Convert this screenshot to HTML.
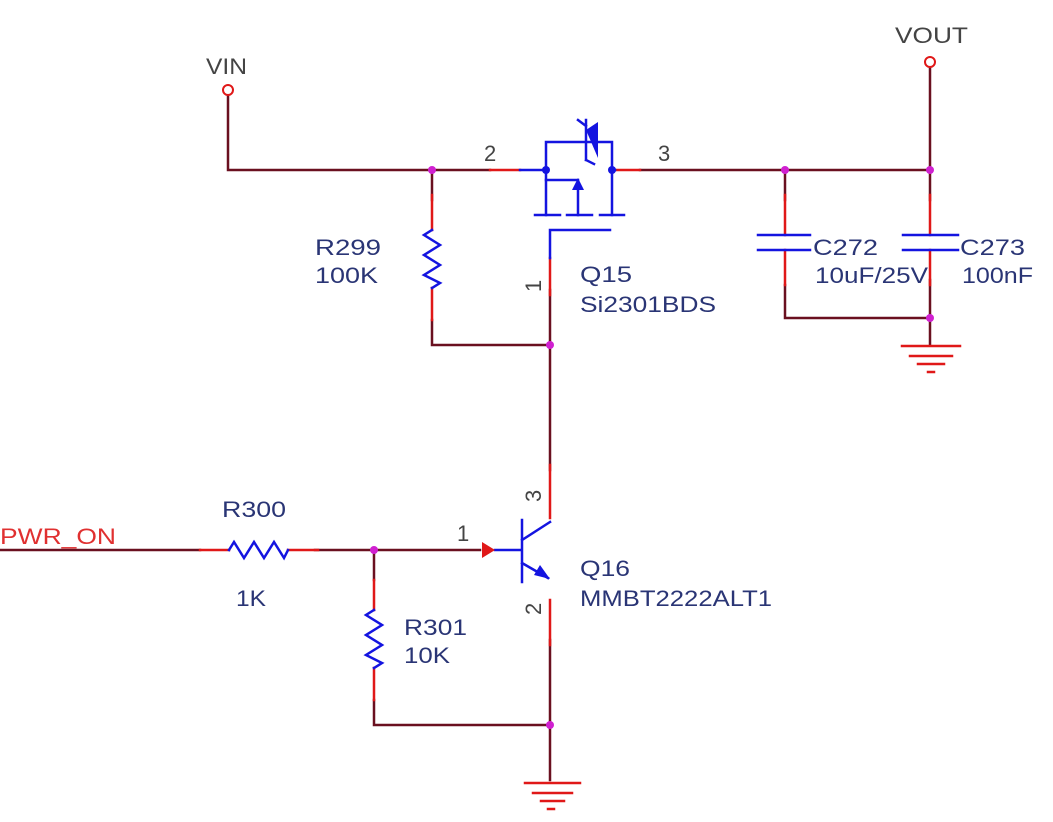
<!DOCTYPE html>
<html><head><meta charset="utf-8"><style>
html,body{margin:0;padding:0;background:#fff;}
svg{display:block;}
text{font-family:"Liberation Sans",sans-serif;}
</style></head><body>
<svg width="1053" height="822" viewBox="0 0 1053 822" xmlns="http://www.w3.org/2000/svg">
<g fill="none" stroke-width="2.5" stroke-linecap="square">
<g stroke="#6a1020">
<path d="M228 96 V170 H490"/>
<path d="M640 170 H930 V68"/>
<path d="M432 170 V200 M432 320 V345 H550"/>
<path d="M550 345 V290"/>
<path d="M785 170 V200 M930 170 V200"/>
<path d="M785 285 V318 H930 V345 M930 280 V318"/>
<path d="M0 550 H200 M315 550 H480"/>
<path d="M374 550 V580 M374 700 V725 H550 V780"/>
<path d="M550 345 V470 M550 640 V725"/>
</g>
<g stroke="#e01818">
<path d="M490 170 H520 M615 170 H640"/>
<path d="M432 195 V230 M432 288 V320"/>
<path d="M785 195 V235 M785 250 V285 M930 195 V235 M930 250 V285"/>
<path d="M550 258 V295"/>
<path d="M200 550 H229 M288 550 H318"/>
<path d="M374 580 V610 M374 668 V700"/>
<path d="M550 465 V518 M550 600 V645"/>
<path d="M902 346 H960 M910 356 H952 M918 364 H944 M928 372 H934"/>
<path d="M525 783 H580 M533 793 H572 M541 801 H564 M548 809 H554"/>
</g>
<circle cx="228" cy="90" r="5" stroke="#e01818" stroke-width="2"/>
<circle cx="930" cy="62" r="5" stroke="#e01818" stroke-width="2"/>
<g stroke="#1414e0">
<path d="M520 170 H546 M612 170 H615"/>
<path d="M546 215 V142 H612 V215"/>
<path d="M546 180 H578 V215"/>
<path d="M535 215 H560 M567 215 H592 M600 215 H624"/>
<path d="M550 258 V230 H610"/>
<path d="M586 120 V160 M578 120 L586 126 M586 160 L594 164"/>
<path d="M229 550 L234 542 L244 558 L254 542 L264 558 L274 542 L284 558 L288 550"/>
<path d="M374 610 L366 615 L382 625 L366 635 L382 645 L366 655 L382 663 L374 668"/>
<path d="M432 230 L424 235 L440 245 L424 255 L440 265 L424 275 L440 283 L432 288"/>
<path d="M758 235 H810 M758 250 H810 M903 235 H958 M903 250 H958"/>
<path d="M495 550 H522 M522 520 V582 M522 540 L550 522 M522 563 L548 578"/>
</g>
</g>
<polygon points="588,128 600,120 600,156" fill="#1414e0" transform="translate(-2,2)"/>
<polygon points="578,178 572,190 584,190" fill="#1414e0"/>
<polygon points="550,579 534,575 540,565" fill="#1414e0"/>
<polygon points="482,542 495,550 482,558" fill="#e01818"/>
<g fill="#1414e0"><circle cx="546" cy="170" r="4"/><circle cx="612" cy="170" r="4"/></g>
<g fill="#d020d0"><circle cx="432" cy="170" r="4"/><circle cx="785" cy="170" r="4"/><circle cx="930" cy="170" r="4"/><circle cx="930" cy="318" r="4"/><circle cx="550" cy="345" r="4"/><circle cx="374" cy="550" r="4"/><circle cx="550" cy="725" r="4"/></g>
<g font-size="22" fill="#444">
<text x="206" y="74" textLength="41" lengthAdjust="spacingAndGlyphs">VIN</text>
<text x="895" y="43" textLength="73" lengthAdjust="spacingAndGlyphs">VOUT</text>
<text x="484" y="161">2</text>
<text x="658" y="161">3</text>
<text x="457" y="541">1</text>
<text transform="translate(541,292) rotate(-90)">1</text>
<text transform="translate(541,502) rotate(-90)">3</text>
<text transform="translate(541,615) rotate(-90)">2</text>
</g>
<g font-size="22" fill="#2a3575" lengthAdjust="spacingAndGlyphs">
<text x="315" y="255" textLength="66" lengthAdjust="spacingAndGlyphs">R299</text>
<text x="315" y="283" textLength="63" lengthAdjust="spacingAndGlyphs">100K</text>
<text x="580" y="282" textLength="52" lengthAdjust="spacingAndGlyphs">Q15</text>
<text x="580" y="312" textLength="136" lengthAdjust="spacingAndGlyphs">Si2301BDS</text>
<text x="813" y="255" textLength="65" lengthAdjust="spacingAndGlyphs">C272</text>
<text x="815" y="283" textLength="113" lengthAdjust="spacingAndGlyphs">10uF/25V</text>
<text x="960" y="255" textLength="65" lengthAdjust="spacingAndGlyphs">C273</text>
<text x="962" y="283" textLength="71" lengthAdjust="spacingAndGlyphs">100nF</text>
<text x="222" y="517" textLength="64" lengthAdjust="spacingAndGlyphs">R300</text>
<text x="236" y="606" textLength="30" lengthAdjust="spacingAndGlyphs">1K</text>
<text x="404" y="635" textLength="63" lengthAdjust="spacingAndGlyphs">R301</text>
<text x="404" y="663" textLength="46" lengthAdjust="spacingAndGlyphs">10K</text>
<text x="580" y="576" textLength="50" lengthAdjust="spacingAndGlyphs">Q16</text>
<text x="580" y="606" textLength="192" lengthAdjust="spacingAndGlyphs">MMBT2222ALT1</text>
</g>
<text x="0" y="544" font-size="22" fill="#e03030" textLength="116" lengthAdjust="spacingAndGlyphs">PWR_ON</text>
</svg>
</body></html>
